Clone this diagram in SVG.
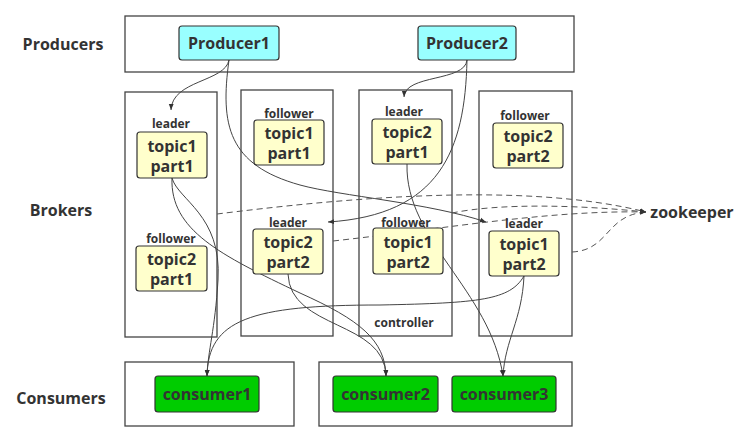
<svg xmlns="http://www.w3.org/2000/svg" width="753" height="442" viewBox="0 0 753 442">
<style>
.grp{fill:#fff;stroke:#444;stroke-width:1.3}
.prod{fill:#99FFFF;stroke:#333;stroke-width:1.2}
.part{fill:#FFFFCC;stroke:#333;stroke-width:1.2}
.cons{fill:#00CC00;stroke:#333;stroke-width:1.2}
text{font-family:"Open Sans","Noto Sans","DejaVu Sans",sans-serif;font-weight:700;fill:#333;text-anchor:middle}
.big{font-size:16px}
.sm{font-size:12px}
.ln{fill:none;stroke:#444;stroke-width:1}
.dash{fill:none;stroke:#555;stroke-width:1;stroke-dasharray:6 4}
</style>
<defs>
<marker id="ah" viewBox="0 0 10 10" refX="10" refY="5" markerWidth="6" markerHeight="6" orient="auto" markerUnits="userSpaceOnUse">
<path d="M0,1 L10,5 L0,9 z" fill="#333"/>
</marker>
</defs>
<g id="labels">
<text class="big" x="63" y="50">Producers</text>
<text class="big" x="61" y="216">Brokers</text>
<text class="big" x="61" y="404">Consumers</text>
</g>
<g id="producers">
<rect class="grp" x="125" y="16" width="449" height="56"/>
</g>
<g id="broker1"><rect class="grp" x="125" y="92" width="92" height="245"/></g>
<g id="broker2"><rect class="grp" x="241" y="90" width="92" height="246"/></g>
<g id="broker3"><rect class="grp" x="359" y="90" width="93" height="246"/>
<text class="sm" x="404" y="327">controller</text></g>
<g id="broker4"><rect class="grp" x="479" y="91" width="93" height="245"/></g>
<g id="consumers-a"><rect class="grp" x="125" y="362" width="169" height="64"/></g>
<g id="consumers-b"><rect class="grp" x="319" y="362" width="253" height="64"/></g>
<g id="connectors">
<path class="ln" d="M229,60 C 225,82 172,80 171,110" marker-end="url(#ah)"/>
<path class="ln" d="M229,60 C 220,125 228,165 300,185 C 340,196 430,203 486,222" marker-end="url(#ah)"/>
<path class="ln" d="M467,60 C 465,82 405,74 404,97" marker-end="url(#ah)"/>
<path class="ln" d="M467,60 C 465,150 440,215 328,222" marker-end="url(#ah)"/>
<path class="ln" d="M172,178 C 178,200 222,215 218,280 C 215,330 208,350 207,376" marker-end="url(#ah)"/>
<path class="ln" d="M172,178 C 170,230 220,255 300,293 C 360,320 385,340 386,376" marker-end="url(#ah)"/>
<path class="ln" d="M288,274 C 290,330 385,320 386,376" marker-end="url(#ah)"/>
<path class="ln" d="M407,164 C 405,240 490,290 503,376" marker-end="url(#ah)"/>
<path class="ln" d="M524,276 C 522,320 505,340 503,376" marker-end="url(#ah)"/>
<path class="ln" d="M524,276 C 510,300 480,303 380,305 C 250,305 208,320 207,376" marker-end="url(#ah)"/>
<path class="dash" d="M217,214 C 330,200 520,180 646,212" marker-end="url(#ah)"/>
<path class="dash" d="M333,241 C 450,228 550,210 646,212" marker-end="url(#ah)"/>
<path class="dash" d="M452,213 C 500,203 580,205 646,212" marker-end="url(#ah)"/>
<path class="dash" d="M572,252 C 610,250 605,215 646,212" marker-end="url(#ah)"/>
</g>
<g id="producer1"><rect class="prod" x="179" y="26" width="100" height="34" rx="3"/><text class="big" x="229" y="49">Producer1</text></g>
<g id="producer2"><rect class="prod" x="418" y="26" width="98" height="34" rx="3"/><text class="big" x="467" y="49">Producer2</text></g>
<g id="b1-t1p1"><text class="sm" x="171" y="128">leader</text><rect class="part" x="137" y="132" width="70" height="46" rx="3"/><text class="big" x="172" y="152">topic1</text><text class="big" x="172" y="172">part1</text></g>
<g id="b1-t2p1"><text class="sm" x="171" y="243">follower</text><rect class="part" x="136" y="246" width="71" height="45" rx="3"/><text class="big" x="171.5" y="265">topic2</text><text class="big" x="171.5" y="285">part1</text></g>
<g id="b2-t1p1"><text class="sm" x="289" y="118">follower</text><rect class="part" x="254" y="120" width="70" height="45" rx="3"/><text class="big" x="289" y="139">topic1</text><text class="big" x="289" y="159">part1</text></g>
<g id="b2-t2p2"><text class="sm" x="288" y="227">leader</text><rect class="part" x="253" y="229" width="70" height="45" rx="3"/><text class="big" x="288" y="248">topic2</text><text class="big" x="288" y="268">part2</text></g>
<g id="b3-t2p1"><text class="sm" x="404" y="116">leader</text><rect class="part" x="372" y="119" width="70" height="45" rx="3"/><text class="big" x="407" y="138">topic2</text><text class="big" x="407" y="158">part1</text></g>
<g id="b3-t1p2"><text class="sm" x="406" y="227">follower</text><rect class="part" x="373" y="228" width="70" height="46" rx="3"/><text class="big" x="408" y="248">topic1</text><text class="big" x="408" y="268">part2</text></g>
<g id="b4-t2p2"><text class="sm" x="525" y="120">follower</text><rect class="part" x="493" y="123" width="70" height="45" rx="3"/><text class="big" x="528" y="142">topic2</text><text class="big" x="528" y="162">part2</text></g>
<g id="b4-t1p2"><text class="sm" x="524" y="228">leader</text><rect class="part" x="489" y="231" width="70" height="45" rx="3"/><text class="big" x="524" y="250">topic1</text><text class="big" x="524" y="270">part2</text></g>
<g id="zookeeper"><text class="big" x="692" y="218">zookeeper</text></g>
<g id="consumer1"><rect class="cons" x="155" y="376" width="104" height="36" rx="3"/><text class="big" x="207" y="400">consumer1</text></g>
<g id="consumer2"><rect class="cons" x="333" y="376" width="105" height="36" rx="3"/><text class="big" x="385.5" y="400">consumer2</text></g>
<g id="consumer3"><rect class="cons" x="452" y="376" width="104" height="36" rx="3"/><text class="big" x="504" y="400">consumer3</text></g>
</svg>
